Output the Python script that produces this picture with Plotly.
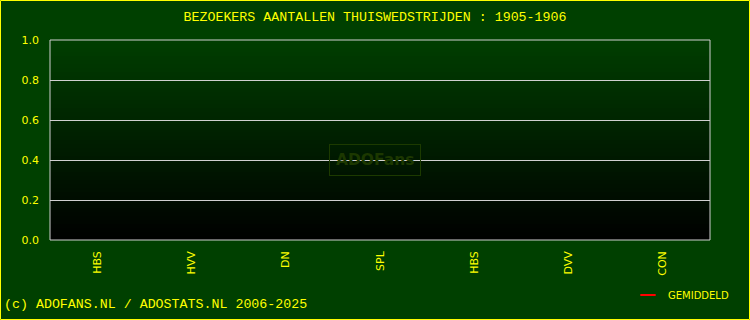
import plotly.graph_objects as go

# ---- data ----
title_text = "BEZOEKERS AANTALLEN THUISWEDSTRIJDEN : 1905-1906"
opponents = ["HBS", "HVV", "DN", "SPL", "HBS", "DVV", "CON"]
positions = [0, 1, 2, 3, 4, 5, 6]
attendance = [None, None, None, None, None, None, None]
average = [None, None, None, None, None, None, None]
y_ticks = [0.0, 0.2, 0.4, 0.6, 0.8, 1.0]
y_tick_labels = ["0.0", "0.2", "0.4", "0.6", "0.8", "1.0"]
footer = "(c) ADOFANS.NL / ADOSTATS.NL 2006-2025"
watermark = "ADOFans"

YEL = "#ffff00"
BG = "#004000"

fig = go.Figure()
fig.add_trace(go.Bar(x=positions, y=attendance, marker_color="#ff0000",
                     showlegend=False, name="bezoekers"))
fig.add_trace(go.Scatter(x=positions, y=average, mode="markers",
                         name="GEMIDDELD",
                         marker=dict(symbol="line-ew", size=11, color="#ff0000",
                                     line=dict(color="#ff0000", width=2))))

# gradient plot background: stacked bands
shapes = []
n = 50
for i in range(n):
    t = (i + 0.5) / n
    g = int(round(62 * t))
    shapes.append(dict(type="rect", xref="paper", yref="paper",
                       x0=0, x1=1, y0=i / n, y1=(i + 1) / n,
                       fillcolor=f"rgb(0,{g},0)", line=dict(width=0),
                       layer="below"))
# plot border
shapes.append(dict(type="rect", xref="paper", yref="paper", x0=0, x1=1, y0=0, y1=1,
                   line=dict(color="#d0d0d0", width=1), layer="above"))
# outer yellow frame
W, H, L, T, PW, PH = 750, 320, 50, 40, 660, 200
shapes.append(dict(type="rect", xref="paper", yref="paper",
                   x0=(0.5 - L) / PW, x1=(749.5 - L) / PW,
                   y0=(T + PH - 319.5) / PH, y1=(T + PH - 0.5) / PH,
                   line=dict(color=YEL, width=1), layer="above"))

fig.update_layout(
    width=W, height=H,
    margin=dict(l=L, r=W - L - PW, t=T, b=H - T - PH, autoexpand=False),
    paper_bgcolor=BG, plot_bgcolor="rgba(0,0,0,0)",
    shapes=shapes,
    title=dict(text=title_text, x=0.5, xref="container", y=1 - 16 / H,
               yref="container", xanchor="center", yanchor="middle",
               font=dict(family="Liberation Mono", size=13.3, color=YEL)),
    xaxis=dict(range=[-0.5, 6.5], tickmode="array", tickvals=positions,
               ticktext=opponents, tickangle=-90, showgrid=False,
               zeroline=False, showline=False, ticks="",
               ticklabelstandoff=8,
               tickfont=dict(family="DejaVu Sans", size=11, color=YEL)),
    yaxis=dict(range=[0, 1], tickmode="array", tickvals=y_ticks,
               ticktext=y_tick_labels, showgrid=True, gridcolor="#d0d0d0",
               gridwidth=1, zeroline=False, showline=False, ticks="",
               ticklabelstandoff=10,
               tickfont=dict(family="DejaVu Sans", size=11, color=YEL)),
    legend=dict(x=(628 - L) / PW, y=(T + PH - 295) / PH, xanchor="left",
                yanchor="middle", bgcolor="rgba(0,0,0,0)",
                font=dict(family="DejaVu Sans", size=10, color=YEL)),
    annotations=[
        dict(text=footer, xref="paper", yref="paper",
             x=(1.5 - L) / PW, y=(T + PH - 304) / PH, xanchor="left",
             yanchor="middle", showarrow=False,
             font=dict(family="Liberation Mono", size=13.3, color=YEL)),
        dict(text="<b>" + watermark + "</b>", xref="paper", yref="paper",
             x=(374.5 - L) / PW, y=(T + PH - 160) / PH, xanchor="center",
             yanchor="middle", showarrow=False,
             bordercolor="#1c3a00", borderwidth=1, borderpad=6,
             font=dict(family="DejaVu Sans", size=15.5, color="#1c3800")),
    ],
)

fig.write_html("out.html")
